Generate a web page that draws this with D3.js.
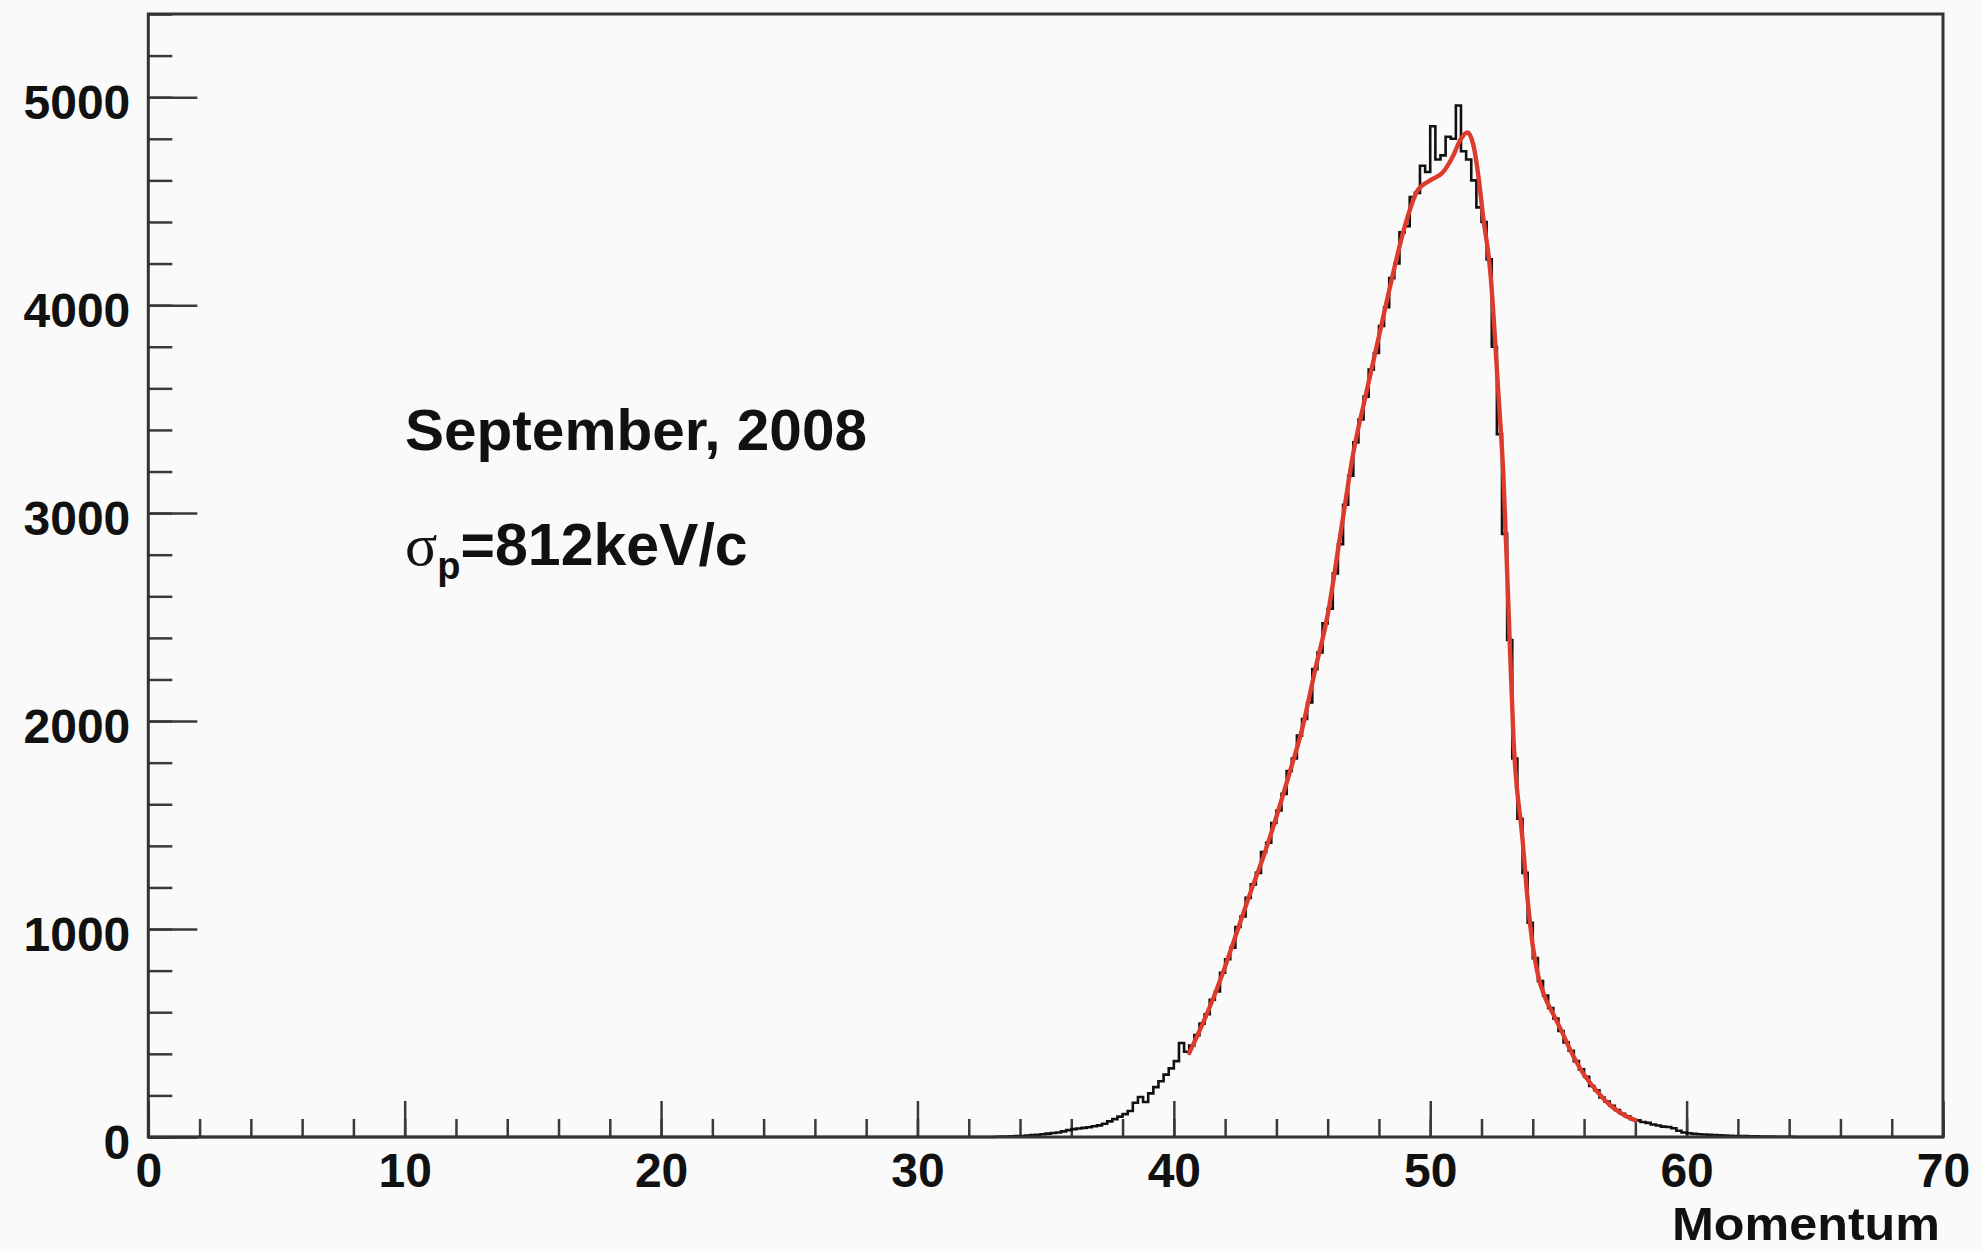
<!DOCTYPE html>
<html>
<head>
<meta charset="utf-8">
<script src="https://cdn.jsdelivr.net/npm/d3@7"></script>
<style>
  html, body { margin: 0; padding: 0; background: #fafafa; }
  svg { display: block; }
  text { font-family: "Liberation Sans", Arial, Helvetica, sans-serif; font-weight: bold; fill: #111; }
</style>
</head>
<body>
<svg id="chart" width="1981" height="1251"></svg>
<script>
// Momentum histogram (counts per 0.2 bin, starting at 33.0)
const binStart = 33.0;
const binWidth = 0.2;
const counts = [
  1, 2, 2, 3, 4, 5, 7, 9, 11, 13,
  16, 19, 22, 27, 33, 38, 41, 44, 47, 52,
  56, 64, 75, 86, 98, 110, 125, 165, 192, 168,
  210, 240, 268, 300, 330, 365, 452, 410, 440, 490,
  545, 590, 660, 700, 790, 855, 910, 1010, 1060, 1150,
  1215, 1270, 1370, 1415, 1510, 1570, 1650, 1760, 1820, 1930,
  2010, 2090, 2250, 2330, 2470, 2540, 2710, 2850, 3040, 3180,
  3340, 3450, 3560, 3690, 3770, 3900, 3990, 4130, 4200, 4350,
  4380, 4520, 4540, 4670, 4640, 4860, 4700, 4720, 4810, 4800,
  4960, 4740, 4700, 4600, 4470, 4400, 4220, 3800, 3380, 2900,
  2390, 1820, 1530, 1270, 1030, 860, 750, 680, 620, 570,
  510, 455, 415, 365, 325, 290, 245, 225, 190, 170,
  150, 130, 112, 100, 85, 80, 72, 68, 60, 55,
  50, 48, 42, 30, 22, 18, 15, 13, 12, 10,
  9, 8, 7, 6, 5, 5, 4, 3, 3, 2,
  2, 2, 1, 1, 1, 1, 0, 0, 0, 0
];

// Fitted function, sampled along the fit range
const fitMomentum = [
  40.6, 41.0, 41.5, 42.0, 42.5, 43.0, 43.5, 44.0, 44.5, 45.0,
  45.5, 46.0, 46.5, 47.0, 47.5, 48.0, 48.5, 49.0, 49.5, 50.0,
  50.5, 50.9, 51.2, 51.45, 51.7, 51.9, 52.05, 52.35, 52.65, 52.85,
  53.05, 53.25, 53.6, 53.8, 54.0, 54.2, 54.5, 54.8, 55.1, 55.6,
  56.0, 56.4, 57.0, 57.5, 58.0
];
const fitCounts = [
  404, 510, 655, 820, 1000, 1180, 1350, 1540, 1745, 1960,
  2240, 2510, 2900, 3290, 3575, 3850, 4125, 4375, 4550, 4600,
  4640, 4720, 4800, 4830, 4760, 4600, 4440, 4150, 3590, 3190,
  2550, 1910, 1430, 1140, 920, 780, 665, 590, 515, 385,
  300, 235, 155, 110, 80
];

// Axis ticks
const xMajorTicks = [0, 10, 20, 30, 40, 50, 60, 70];
const xMinorTicks = d3.range(0, 70.001, 2);
const yMajorTicks = [0, 1000, 2000, 3000, 4000, 5000];
const yMinorTicks = d3.range(0, 5400.001, 200);

const xTitle = "Momentum";
const dateLabel = "September, 2008";
const sigmaValue = "=812keV/c";

const svg = d3.select("#chart");
const W = 1981, H = 1251;
const frame = { left: 148.3, right: 1943, top: 14, bottom: 1137 };

svg.append("rect").attr("width", W).attr("height", H).attr("fill", "#fafafa");

const x = d3.scaleLinear().domain([0, 70]).range([frame.left, frame.right]);
const y = d3.scaleLinear().domain([0, 5400]).range([frame.bottom, frame.top]);

const tickColor = "#3a3a3a";

// Y axis: major + minor ticks pointing into the frame
const yMinor = svg.append("g").attr("transform", `translate(${frame.left},0)`)
  .call(d3.axisLeft(y).tickValues(yMinorTicks).tickSize(-24).tickFormat(""));
const yMajor = svg.append("g").attr("transform", `translate(${frame.left},0)`)
  .call(d3.axisLeft(y).tickValues(yMajorTicks).tickSize(-49).tickPadding(18).tickFormat(d3.format("d")));

// X axis
const xMinor = svg.append("g").attr("transform", `translate(0,${frame.bottom})`)
  .call(d3.axisBottom(x).tickValues(xMinorTicks).tickSize(-18).tickFormat(""));
const xMajor = svg.append("g").attr("transform", `translate(0,${frame.bottom})`)
  .call(d3.axisBottom(x).tickValues(xMajorTicks).tickSize(-36).tickPadding(16).tickFormat(d3.format("d")));

[yMinor, yMajor, xMinor, xMajor].forEach(g => {
  g.select(".domain").remove();
  g.selectAll(".tick line").attr("stroke", tickColor).attr("stroke-width", 2.5);
  g.selectAll("text").style("font-size", "48px").attr("fill", "#111")
    .style("font-family", "'Liberation Sans', Arial, sans-serif").style("font-weight", "bold");
});
yMajor.selectAll("text").attr("dy", "0.45em");

// Histogram as a step outline over the whole axis range
const edges = counts.map((c, i) => [binStart + i * binWidth, c]);
const binEnd = binStart + counts.length * binWidth;
const histPts = [[0, 0], [binStart, 0]].concat(edges)
  .concat([[binEnd, counts[counts.length - 1]], [binEnd, 0], [70, 0]]);
const stepLine = d3.line().x(d => x(d[0])).y(d => y(d[1])).curve(d3.curveStepAfter);
svg.append("path")
  .datum(histPts)
  .attr("d", stepLine)
  .attr("fill", "none")
  .attr("stroke", "#111")
  .attr("stroke-width", 2.6);

// Fit curve
const fitLine = d3.line().x(d => x(d[0])).y(d => y(d[1])).curve(d3.curveMonotoneX);
svg.append("path")
  .datum(fitMomentum.map((m, i) => [m, fitCounts[i]]))
  .attr("d", fitLine)
  .attr("fill", "none")
  .attr("stroke", "#dc3b2e")
  .attr("stroke-width", 4.4)
  .attr("stroke-linejoin", "round")
  .attr("stroke-linecap", "round");

// Frame
svg.append("rect")
  .attr("x", frame.left).attr("y", frame.top)
  .attr("width", frame.right - frame.left).attr("height", frame.bottom - frame.top)
  .attr("fill", "none").attr("stroke", "#333").attr("stroke-width", 3);

// Axis title
svg.append("text")
  .attr("x", 1940).attr("y", 1240)
  .attr("text-anchor", "end")
  .style("font-size", "46px")
  .attr("textLength", 268).attr("lengthAdjust", "spacingAndGlyphs")
  .text(xTitle);

// Annotations
svg.append("text")
  .attr("x", 405).attr("y", 450)
  .style("font-size", "57px")
  .attr("textLength", 462).attr("lengthAdjust", "spacingAndGlyphs")
  .text(dateLabel);

const sig = svg.append("text").attr("x", 405).attr("y", 565).style("font-size", "59px");
sig.append("tspan")
  .style("font-family", "'Liberation Serif', 'Times New Roman', serif")
  .style("font-weight", "normal")
  .style("font-size", "60px")
  .text("σ");
sig.append("tspan")
  .attr("dy", 14)
  .style("font-size", "38px")
  .text("p");
sig.append("tspan")
  .attr("dy", -14)
  .text(sigmaValue);
</script>
</body>
</html>
